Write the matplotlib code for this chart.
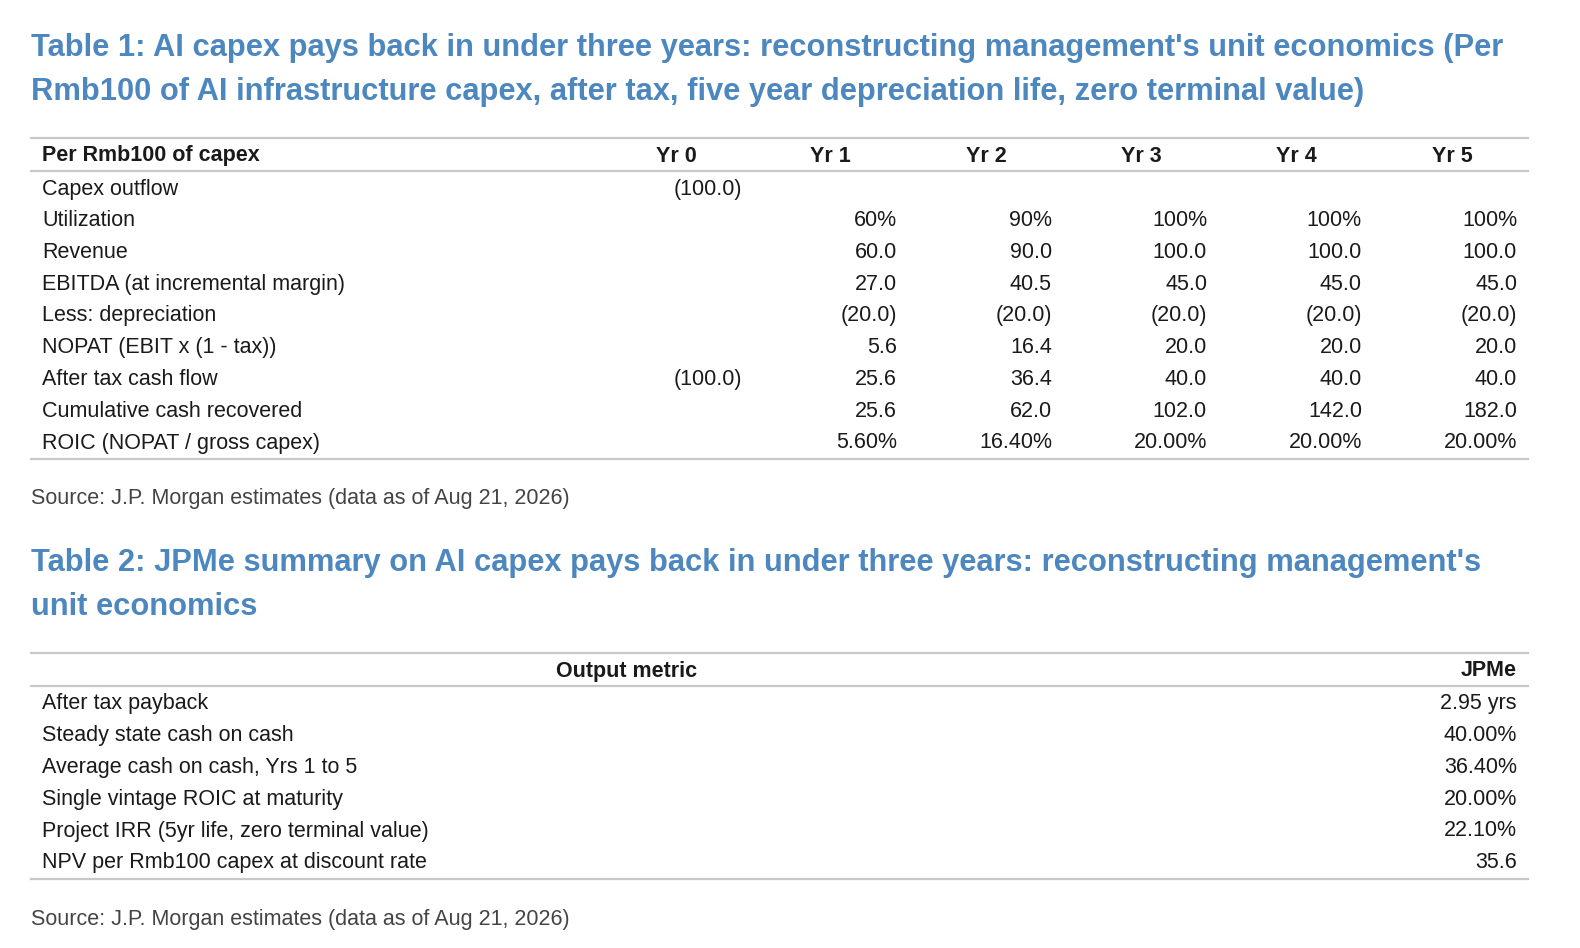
import matplotlib.pyplot as plt
from matplotlib.lines import Line2D

plt.rcParams['font.family'] = ['Liberation Sans', 'DejaVu Sans']

# Table 1 data
t1_title = ("Table 1: AI capex pays back in under three years: reconstructing management's unit economics (Per\n"
            "Rmb100 of AI infrastructure capex, after tax, five year depreciation life, zero terminal value)")
t1_corner = "Per Rmb100 of capex"
years = ["Yr 0", "Yr 1", "Yr 2", "Yr 3", "Yr 4", "Yr 5"]
row_labels = [
    "Capex outflow", "Utilization", "Revenue", "EBITDA (at incremental margin)",
    "Less: depreciation", "NOPAT (EBIT x (1 - tax))", "After tax cash flow",
    "Cumulative cash recovered", "ROIC (NOPAT / gross capex)",
]
capex_outflow = ["(100.0)", "", "", "", "", ""]
utilization = ["", "60%", "90%", "100%", "100%", "100%"]
revenue = ["", "60.0", "90.0", "100.0", "100.0", "100.0"]
ebitda = ["", "27.0", "40.5", "45.0", "45.0", "45.0"]
depreciation = ["", "(20.0)", "(20.0)", "(20.0)", "(20.0)", "(20.0)"]
nopat = ["", "5.6", "16.4", "20.0", "20.0", "20.0"]
cash_flow = ["(100.0)", "25.6", "36.4", "40.0", "40.0", "40.0"]
cumulative = ["", "25.6", "62.0", "102.0", "142.0", "182.0"]
roic = ["", "5.60%", "16.40%", "20.00%", "20.00%", "20.00%"]
t1_values = [capex_outflow, utilization, revenue, ebitda, depreciation,
             nopat, cash_flow, cumulative, roic]

# Table 2 data
t2_title = ("Table 2: JPMe summary on AI capex pays back in under three years: reconstructing management's\n"
            "unit economics")
t2_header = ["Output metric", "JPMe"]
metrics = [
    "After tax payback", "Steady state cash on cash", "Average cash on cash, Yrs 1 to 5",
    "Single vintage ROIC at maturity", "Project IRR (5yr life, zero terminal value)",
    "NPV per Rmb100 capex at discount rate",
]
jpme = ["2.95 yrs", "40.00%", "36.40%", "20.00%", "22.10%", "35.6"]

source = "Source: J.P. Morgan estimates (data as of Aug 21, 2026)"

W, H = 1580, 948
fig = plt.figure(figsize=(W / 100, H / 100), dpi=100)

def fx(px):
    return px / W

def fy(px):
    return 1 - px / H

title_color = '#4d87bf'
line_color = '#c8c8c8'
text_color = '#1a1a1a'
fs_title = 22.2
fs_body = 15.5
dy = 2  # nudge so that text sits on the row like the reference

def hline(y):
    fig.add_artist(Line2D([fx(31), fx(1528)], [fy(y), fy(y)], color=line_color, lw=1.6))

# ---- Table 1 ----
fig.text(fx(31), fy(68 + dy), t1_title, fontsize=fs_title, fontweight='bold', color=title_color,
         va='center', ha='left', linespacing=1.62)
hline(138)
fig.text(fx(42), fy(154 + dy), t1_corner, fontsize=fs_body, fontweight='bold', color=text_color, va='center')
header_x = [676, 830, 986, 1141, 1296, 1452]
value_x = [742, 897, 1052, 1207, 1362, 1517]
for yr, x in zip(years, header_x):
    fig.text(fx(x), fy(154 + dy), yr, fontsize=fs_body, fontweight='bold', color=text_color,
             va='center', ha='center')
hline(171)
row_top, row_step = 187, 31.75
for i, (lab, vals) in enumerate(zip(row_labels, t1_values)):
    y = row_top + i * row_step + dy
    fig.text(fx(42), fy(y), lab, fontsize=fs_body, color=text_color, va='center')
    for v, x in zip(vals, value_x):
        fig.text(fx(x), fy(y), v, fontsize=fs_body, color=text_color, va='center', ha='right')
hline(459)
fig.text(fx(31), fy(497 + dy), source, fontsize=fs_body, color='#444444', va='center')

# ---- Table 2 ----
fig.text(fx(31), fy(583 + dy), t2_title, fontsize=fs_title, fontweight='bold', color=title_color,
         va='center', ha='left', linespacing=1.62)
hline(653)
fig.text(fx(627), fy(669 + dy), t2_header[0], fontsize=fs_body, fontweight='bold', color=text_color,
         va='center', ha='center')
fig.text(fx(1517), fy(669 + dy), t2_header[1], fontsize=fs_body, fontweight='bold', color=text_color,
         va='center', ha='right')
hline(686)
row_top2 = 702
for i, (m, v) in enumerate(zip(metrics, jpme)):
    y = row_top2 + i * row_step + dy
    fig.text(fx(42), fy(y), m, fontsize=fs_body, color=text_color, va='center')
    fig.text(fx(1517), fy(y), v, fontsize=fs_body, color=text_color, va='center', ha='right')
hline(879)
fig.text(fx(31), fy(917 + dy), source, fontsize=fs_body, color='#444444', va='center')

fig.savefig('out.png', dpi=100)
